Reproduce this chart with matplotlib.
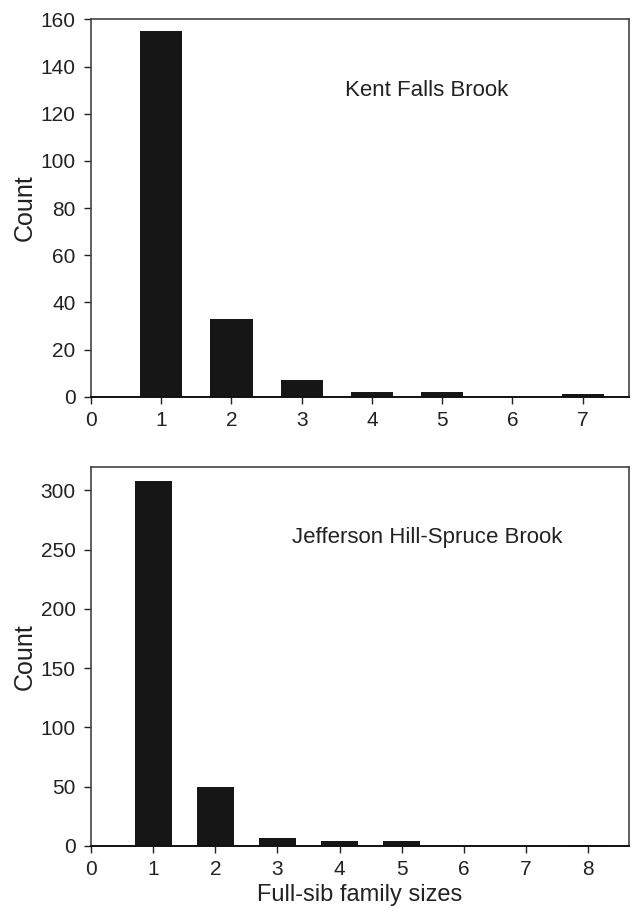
import matplotlib
matplotlib.use("Agg")
import matplotlib.pyplot as plt

plt.rcParams['font.family'] = ['Liberation Sans', 'DejaVu Sans']

# Kent Falls Brook
kent_sizes = [1, 2, 3, 4, 5, 6, 7]
kent_counts = [155, 33, 7, 2, 2, 0, 1]

# Jefferson Hill-Spruce Brook
jeff_sizes = [1, 2, 3, 4, 5, 6, 7, 8]
jeff_counts = [308, 50, 7, 4, 4, 0, 0, 1]

kent_yticks = [0, 20, 40, 60, 80, 100, 120, 140, 160]
jeff_yticks = [0, 50, 100, 150, 200, 250, 300]

fig = plt.figure(figsize=(6.33, 9.08), dpi=100)
ax1 = fig.add_axes([0.1438, 0.5631, 0.9937 - 0.1438, 0.9787 - 0.5631])
ax2 = fig.add_axes([0.1438, 0.0683, 0.9937 - 0.1438, 0.486 - 0.0683])

bar_color = '#161616'


def style_axis(ax, n_max, yticks, ytop):
    ax.set_xlim(0, n_max + 0.66)
    ax.set_ylim(0, ytop)
    ax.set_xticks(range(0, n_max + 1))
    ax.set_yticks(yticks)
    ax.tick_params(axis='both', direction='out', length=5, width=1,
                   labelsize=15, colors='#222222')
    ax.tick_params(axis='y', pad=6)
    ax.tick_params(axis='x', pad=5)
    for side in ['top', 'right', 'left']:
        ax.spines[side].set_color('#444444')
        ax.spines[side].set_linewidth(1.2)
    ax.spines['bottom'].set_color('#111111')
    ax.spines['bottom'].set_linewidth(1.4)
    ax.set_ylabel('Count', fontsize=18, color='#222222', labelpad=3)


ax1.bar(kent_sizes, kent_counts, width=0.6, color=bar_color, edgecolor='none')
style_axis(ax1, 7, kent_yticks, 160)
ax1.text(4.78, 130, 'Kent Falls Brook', fontsize=16, ha='center', va='center',
         color='#222222')

ax2.bar(jeff_sizes, jeff_counts, width=0.6, color=bar_color, edgecolor='none')
style_axis(ax2, 8, jeff_yticks, 320)
ax2.text(5.41, 260, 'Jefferson Hill-Spruce Brook', fontsize=16, ha='center',
         va='center', color='#222222')
ax2.set_xlabel('Full-sib family sizes', fontsize=17, color='#222222', labelpad=4)

fig.savefig('out.png', dpi=100)
plt.close(fig)
